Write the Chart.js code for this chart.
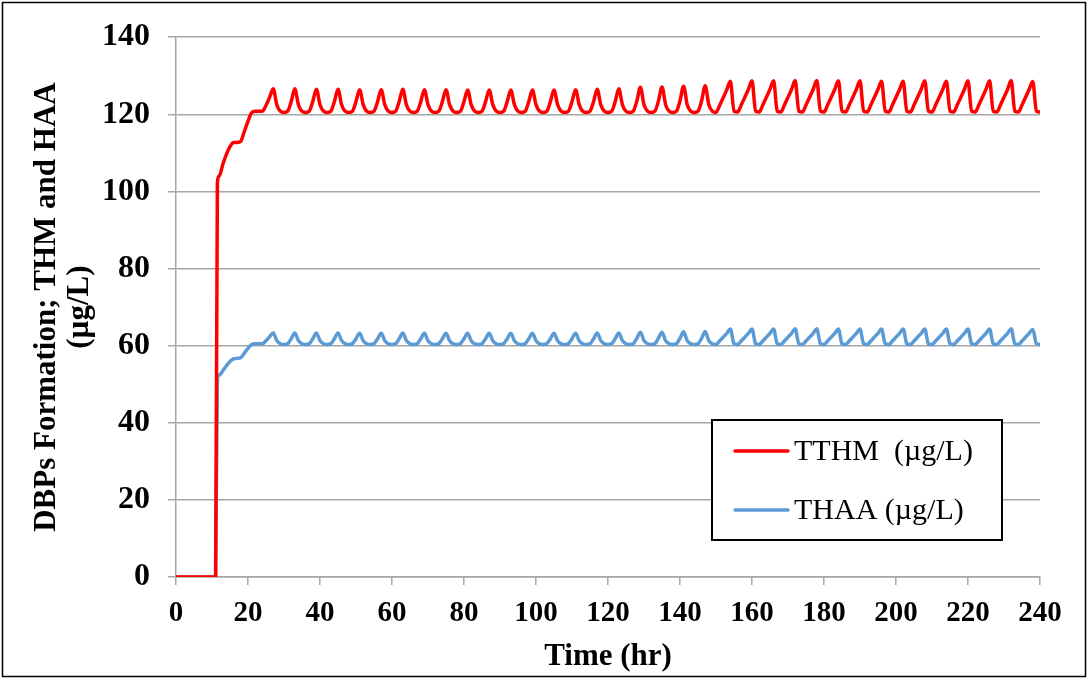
<!DOCTYPE html>
<html>
<head>
<meta charset="utf-8">
<script src="https://cdn.jsdelivr.net/npm/chart.js@4.4.1/dist/chart.umd.min.js"></script>
<style>
  html, body { margin: 0; padding: 0; background: #fff; }
  #wrap { width: 1089px; height: 680px; }
</style>
</head>
<body>
<div id="wrap"><canvas id="grafico" width="1089" height="680"></canvas></div>
<script>
// time (hr) of each sample
const hours = [
    0, 11, 11.5,
    12, 13, 14, 15, 16, 17, 18, 19, 20,
    21, 22, 23, 24, 25, 26, 27,
    28, 29, 30, 31, 32, 33,
    34, 35, 36, 37, 38, 39,
    40, 41, 42, 43, 44, 45,
    46, 47, 48, 49, 50, 51,
    52, 53, 54, 55, 56, 57,
    58, 59, 60, 61, 62, 63,
    64, 65, 66, 67, 68, 69,
    70, 71, 72, 73, 74, 75,
    76, 77, 78, 79, 80, 81,
    82, 83, 84, 85, 86, 87,
    88, 89, 90, 91, 92, 93,
    94, 95, 96, 97, 98, 99,
    100, 101, 102, 103, 104, 105,
    106, 107, 108, 109, 110, 111,
    112, 113, 114, 115, 116, 117,
    118, 119, 120, 121, 122, 123,
    124, 125, 126, 127, 128, 129,
    130, 131, 132, 133, 134, 135,
    136, 137, 138, 139, 140, 141,
    142, 143, 144, 145, 146, 147,
    148, 149, 150, 151, 152, 153, 154,
    155, 156, 157, 158, 159, 160,
    161, 162, 163, 164, 165, 166,
    167, 168, 169, 170, 171, 172,
    173, 174, 175, 176, 177, 178,
    179, 180, 181, 182, 183, 184,
    185, 186, 187, 188, 189, 190,
    191, 192, 193, 194, 195, 196,
    197, 198, 199, 200, 201, 202,
    203, 204, 205, 206, 207, 208,
    209, 210, 211, 212, 213, 214,
    215, 216, 217, 218, 219, 220,
    221, 222, 223, 224, 225, 226,
    227, 228, 229, 230, 231, 232,
    233, 234, 235, 236, 237, 238,
    239, 240
];

// TTHM (µg/L)
const tthm = [
    0, 0, 102.3,
    104.0, 107.0, 109.6, 111.6, 112.7, 112.7, 113.0, 115.6, 118.2,
    120.4, 120.8, 120.8, 120.8, 122.3, 124.4, 126.6,
    122.5, 120.8, 120.5, 120.8, 123.3, 126.6,
    122.5, 120.8, 120.5, 120.8, 123.3, 126.5,
    122.5, 120.8, 120.5, 120.8, 123.3, 126.5,
    122.5, 120.8, 120.5, 120.8, 123.3, 126.4,
    122.5, 120.8, 120.5, 120.8, 123.3, 126.4,
    122.5, 120.8, 120.5, 120.8, 123.3, 126.5,
    122.5, 120.8, 120.5, 120.8, 123.3, 126.4,
    122.5, 120.8, 120.5, 120.8, 123.3, 126.4,
    122.5, 120.8, 120.5, 120.8, 123.3, 126.3,
    122.5, 120.8, 120.5, 120.8, 123.3, 126.3,
    122.5, 120.8, 120.5, 120.8, 123.3, 126.3,
    122.5, 120.8, 120.5, 120.8, 123.3, 126.3,
    122.5, 120.8, 120.5, 120.8, 123.3, 126.3,
    122.5, 120.8, 120.5, 120.8, 123.3, 126.4,
    122.5, 120.8, 120.5, 120.8, 123.3, 126.5,
    122.5, 120.8, 120.5, 120.8, 123.3, 126.6,
    122.5, 120.8, 120.5, 120.8, 123.4, 127.0,
    122.5, 120.8, 120.5, 120.8, 123.4, 127.1,
    122.5, 120.8, 120.5, 120.8, 123.5, 127.3,
    122.5, 120.8, 120.5, 120.8, 123.5, 127.4,
    122.5, 120.8, 120.5, 122.3, 124.3, 126.4, 128.6,
    120.8, 120.6, 122.4, 124.4, 126.5, 128.7,
    120.8, 120.6, 122.4, 124.4, 126.5, 128.7,
    120.8, 120.6, 122.4, 124.4, 126.5, 128.8,
    120.8, 120.6, 122.4, 124.4, 126.5, 128.8,
    120.8, 120.6, 122.4, 124.4, 126.5, 128.7,
    120.8, 120.6, 122.4, 124.4, 126.5, 128.7,
    120.8, 120.6, 122.4, 124.4, 126.5, 128.6,
    120.8, 120.6, 122.4, 124.4, 126.5, 128.6,
    120.8, 120.6, 122.4, 124.4, 126.5, 128.7,
    120.8, 120.6, 122.4, 124.4, 126.5, 128.6,
    120.8, 120.6, 122.4, 124.4, 126.5, 128.7,
    120.8, 120.6, 122.4, 124.4, 126.5, 128.7,
    120.8, 120.6, 122.4, 124.4, 126.5, 128.8,
    120.8, 120.6, 122.4, 124.4, 126.5, 128.5,
    120.8, 120.6
];

// THAA (µg/L)
const thaa = [
    0, 0, 51.7,
    52.3, 53.5, 54.8, 55.9, 56.6, 56.7, 56.9, 58.1, 59.3,
    60.3, 60.5, 60.5, 60.5, 61.3, 62.3, 63.3,
    61.3, 60.5, 60.3, 60.5, 61.8, 63.3,
    61.3, 60.5, 60.3, 60.5, 61.8, 63.3,
    61.3, 60.5, 60.3, 60.5, 61.8, 63.3,
    61.3, 60.5, 60.3, 60.5, 61.8, 63.2,
    61.3, 60.5, 60.3, 60.5, 61.8, 63.2,
    61.3, 60.5, 60.3, 60.5, 61.8, 63.3,
    61.3, 60.5, 60.3, 60.5, 61.8, 63.2,
    61.3, 60.5, 60.3, 60.5, 61.8, 63.2,
    61.3, 60.5, 60.3, 60.5, 61.8, 63.2,
    61.3, 60.5, 60.3, 60.5, 61.8, 63.2,
    61.3, 60.5, 60.3, 60.5, 61.8, 63.2,
    61.3, 60.5, 60.3, 60.5, 61.8, 63.2,
    61.3, 60.5, 60.3, 60.5, 61.8, 63.2,
    61.3, 60.5, 60.3, 60.5, 61.8, 63.2,
    61.3, 60.5, 60.3, 60.5, 61.8, 63.3,
    61.3, 60.5, 60.3, 60.5, 61.8, 63.3,
    61.3, 60.5, 60.3, 60.5, 61.9, 63.5,
    61.3, 60.5, 60.3, 60.5, 61.9, 63.5,
    61.3, 60.5, 60.3, 60.5, 61.9, 63.6,
    61.3, 60.5, 60.3, 60.5, 61.9, 63.7,
    61.3, 60.5, 60.3, 61.2, 62.2, 63.2, 64.3,
    60.5, 60.3, 61.2, 62.2, 63.2, 64.3,
    60.5, 60.3, 61.2, 62.2, 63.2, 64.3,
    60.5, 60.3, 61.2, 62.2, 63.2, 64.4,
    60.5, 60.3, 61.2, 62.2, 63.2, 64.4,
    60.5, 60.3, 61.2, 62.2, 63.2, 64.3,
    60.5, 60.3, 61.2, 62.2, 63.2, 64.3,
    60.5, 60.3, 61.2, 62.2, 63.2, 64.3,
    60.5, 60.3, 61.2, 62.2, 63.2, 64.3,
    60.5, 60.3, 61.2, 62.2, 63.2, 64.3,
    60.5, 60.3, 61.2, 62.2, 63.2, 64.3,
    60.5, 60.3, 61.2, 62.2, 63.2, 64.3,
    60.5, 60.3, 61.2, 62.2, 63.2, 64.3,
    60.5, 60.3, 61.2, 62.2, 63.2, 64.4,
    60.5, 60.3, 61.2, 62.2, 63.2, 64.2,
    60.5, 60.3
];

const seriesNames = ['TTHM  (\u00b5g/L)', 'THAA (\u00b5g/L)'];
const seriesColors = ['#ff0000', '#5b9bd5'];

const gridGray = '#a6a6a6';
const serif = '"Liberation Serif", "Times New Roman", serif';

function pontos(valores) {
    return hours.map((h, i) => ({ x: h, y: valores[i] }));
}

// legenda com caixa, desenhada dentro da área do gráfico
const legendaCaixa = {
    id: 'legendaCaixa',
    afterDatasetsDraw(chart) {
        const ctx = chart.ctx;
        const x0 = 712, y0 = 420, w = 290, h = 120;
        ctx.save();
        ctx.fillStyle = '#fff';
        ctx.fillRect(x0, y0, w, h);
        ctx.strokeStyle = '#000';
        ctx.lineWidth = 2;
        ctx.strokeRect(x0, y0, w, h);
        ctx.font = '30px ' + serif;
        ctx.textBaseline = 'middle';
        ctx.textAlign = 'left';
        chart.data.datasets.forEach((ds, i) => {
            const y = y0 + 31 + i * 59;
            ctx.strokeStyle = ds.borderColor;
            ctx.lineWidth = 3.5;
            ctx.lineCap = 'round';
            ctx.beginPath();
            ctx.moveTo(x0 + 23, y);
            ctx.lineTo(x0 + 76, y);
            ctx.stroke();
            ctx.fillStyle = '#000';
            ctx.fillText(ds.label, x0 + 82, y + 1);
        });
        ctx.restore();
    }
};

// moldura externa
const moldura = {
    id: 'moldura',
    afterDraw(chart) {
        const ctx = chart.ctx;
        ctx.save();
        ctx.strokeStyle = '#000';
        ctx.lineWidth = 1.5;
        ctx.strokeRect(2.5, 2.5, 1083, 674);
        ctx.restore();
    }
};

new Chart(document.getElementById('grafico').getContext('2d'), {
    type: 'line',
    data: {
        datasets: [
            {
                label: seriesNames[0],
                data: pontos(tthm),
                borderColor: seriesColors[0],
                borderWidth: 3.5,
                pointRadius: 0,
                cubicInterpolationMode: 'monotone'
            },
            {
                label: seriesNames[1],
                data: pontos(thaa),
                borderColor: seriesColors[1],
                borderWidth: 3.5,
                pointRadius: 0,
                cubicInterpolationMode: 'monotone'
            }
        ]
    },
    options: {
        responsive: false,
        animation: false,
        devicePixelRatio: 1,
        layout: {
            autoPadding: false,
            padding: { top: 36, right: 49, bottom: 0, left: 0 }
        },
        plugins: {
            legend: { display: false },
            tooltip: { enabled: false }
        },
        scales: {
            x: {
                type: 'linear',
                min: 0,
                max: 240,
                afterFit: (scale) => { scale.height = 103; },
                ticks: {
                    stepSize: 20,
                    color: '#000',
                    padding: 11,
                    maxRotation: 0,
                    font: { family: serif, size: 29, weight: 'bold' }
                },
                grid: {
                    drawOnChartArea: false,
                    drawTicks: true,
                    tickLength: 8,
                    color: gridGray,
                    lineWidth: 1.5
                },
                border: { color: gridGray, width: 1.5 },
                title: {
                    display: true,
                    text: 'Time (hr)',
                    color: '#000',
                    padding: { top: 0, bottom: 6 },
                    font: { family: serif, size: 31, weight: 'bold', lineHeight: 1.1 }
                }
            },
            y: {
                min: 0,
                max: 140,
                afterFit: (scale) => { scale.width = 176; },
                ticks: {
                    stepSize: 20,
                    color: '#000',
                    padding: 18,
                    font: { family: serif, size: 32, weight: 'bold' }
                },
                grid: {
                    color: gridGray,
                    lineWidth: 1.5,
                    tickLength: 8
                },
                border: { color: gridGray, width: 1.5 },
                title: {
                    display: true,
                    text: ['DBPs Formation; THM and HAA', '(\u00b5g/L)'],
                    color: '#000',
                    padding: { top: 30, bottom: 0 },
                    font: { family: serif, size: 31, weight: 'bold', lineHeight: 1.07 }
                }
            }
        }
    },
    plugins: [legendaCaixa, moldura]
});
</script>
</body>
</html>
